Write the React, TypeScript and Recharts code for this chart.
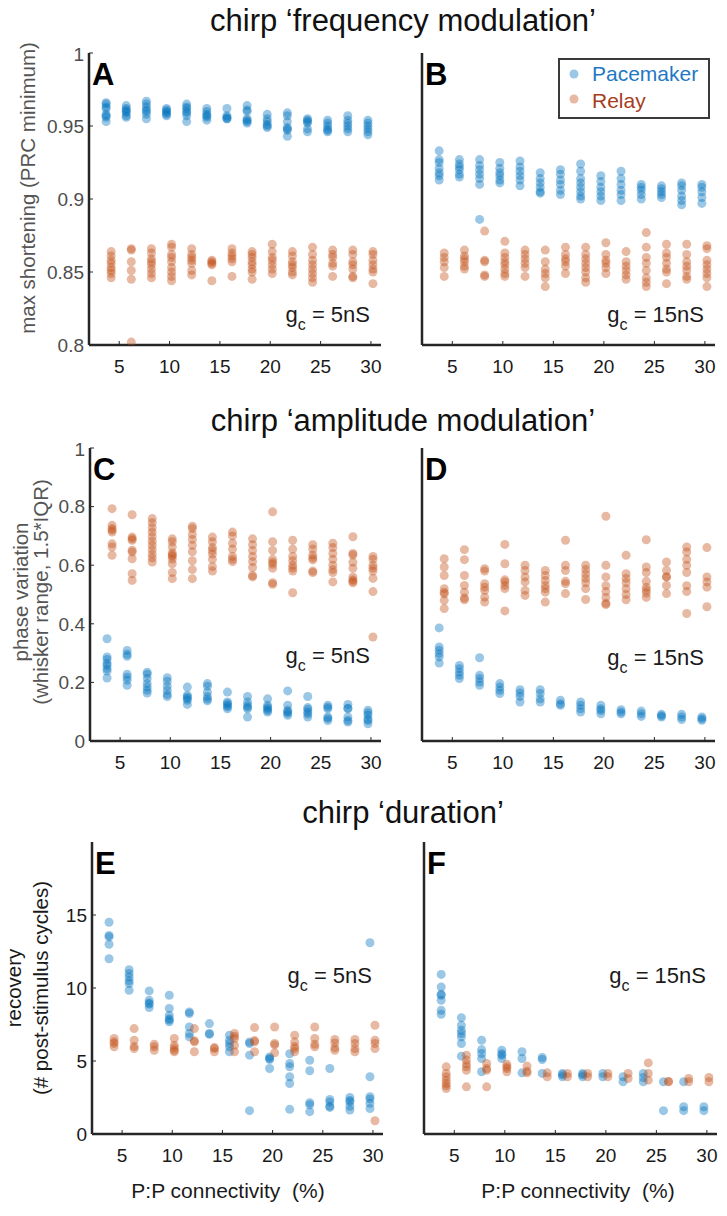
import React from 'react';
import { ScatterChart, Scatter, XAxis, YAxis } from 'recharts';

const FONT = '"Liberation Sans", Arial, Helvetica, sans-serif';
const FRAME = '#262626';
const PACE = '#0072BD';
const RELAY = '#C4501A';

const connectivity = [4, 6, 8, 10, 12, 14, 16, 18, 20, 22, 24, 26, 28, 30];
const xTicks = [5, 10, 15, 20, 25, 30];
const xDomain: [number, number] = [2, 31];
const paceOffset = -0.3;
const relayOffset = 0.2;

const ticksAB = [0.8, 0.85, 0.9, 0.95, 1];
const ticksCD = [0, 0.2, 0.4, 0.6, 0.8, 1];
const ticksEF = [0, 5, 10, 15];

const pacemakerA = [
  [0.966, 0.965, 0.963, 0.962, 0.958, 0.957, 0.956, 0.953],
  [0.964, 0.962, 0.961, 0.96, 0.959, 0.957, 0.956],
  [0.967, 0.965, 0.963, 0.961, 0.96, 0.958, 0.955],
  [0.962, 0.961, 0.96, 0.959, 0.958, 0.957],
  [0.965, 0.963, 0.962, 0.96, 0.959, 0.957, 0.953],
  [0.962, 0.96, 0.958, 0.957, 0.956, 0.954],
  [0.962, 0.957, 0.956, 0.955, 0.955],
  [0.964, 0.961, 0.96, 0.955, 0.954, 0.953, 0.952],
  [0.958, 0.955, 0.953, 0.951, 0.95, 0.949],
  [0.959, 0.957, 0.953, 0.949, 0.948, 0.947, 0.943],
  [0.955, 0.954, 0.953, 0.952, 0.948, 0.946],
  [0.954, 0.952, 0.95, 0.948, 0.947, 0.946],
  [0.957, 0.954, 0.952, 0.95, 0.948, 0.946],
  [0.954, 0.952, 0.95, 0.948, 0.946, 0.944],
];
const relayA = [
  [0.864, 0.861, 0.858, 0.856, 0.853, 0.851, 0.849, 0.846],
  [0.866, 0.865, 0.857, 0.851, 0.845, 0.802],
  [0.866, 0.863, 0.859, 0.857, 0.855, 0.852, 0.849, 0.846],
  [0.869, 0.867, 0.862, 0.86, 0.857, 0.853, 0.85, 0.847, 0.844],
  [0.866, 0.862, 0.86, 0.858, 0.856, 0.851, 0.848],
  [0.858, 0.857, 0.856, 0.855, 0.844],
  [0.866, 0.863, 0.861, 0.859, 0.857, 0.847],
  [0.864, 0.862, 0.86, 0.857, 0.855, 0.852, 0.85, 0.845],
  [0.869, 0.864, 0.86, 0.858, 0.855, 0.852, 0.849],
  [0.864, 0.861, 0.857, 0.855, 0.853, 0.85, 0.848],
  [0.867, 0.862, 0.858, 0.855, 0.852, 0.849, 0.846, 0.843],
  [0.865, 0.862, 0.86, 0.856, 0.854, 0.847],
  [0.865, 0.862, 0.857, 0.855, 0.852, 0.847, 0.846],
  [0.864, 0.862, 0.858, 0.855, 0.852, 0.85, 0.842],
];

const pacemakerB = [
  [0.933, 0.927, 0.925, 0.921, 0.918, 0.916, 0.913],
  [0.927, 0.924, 0.922, 0.92, 0.917, 0.915],
  [0.927, 0.923, 0.92, 0.917, 0.914, 0.91, 0.886],
  [0.925, 0.921, 0.918, 0.916, 0.913, 0.911],
  [0.926, 0.922, 0.919, 0.916, 0.913, 0.909],
  [0.918, 0.914, 0.911, 0.908, 0.905, 0.904],
  [0.92, 0.917, 0.913, 0.91, 0.906, 0.903],
  [0.924, 0.919, 0.914, 0.911, 0.908, 0.905, 0.902, 0.9],
  [0.916, 0.912, 0.908, 0.905, 0.902, 0.899],
  [0.919, 0.914, 0.91, 0.906, 0.903, 0.899],
  [0.91, 0.908, 0.906, 0.903, 0.9],
  [0.909, 0.907, 0.905, 0.903, 0.901],
  [0.911, 0.909, 0.906, 0.902, 0.899, 0.896],
  [0.91, 0.908, 0.905, 0.901, 0.897],
];
const relayB = [
  [0.863, 0.86, 0.857, 0.853, 0.847],
  [0.865, 0.861, 0.859, 0.857, 0.854, 0.852],
  [0.878, 0.858, 0.857, 0.848, 0.847],
  [0.871, 0.863, 0.86, 0.857, 0.855, 0.852, 0.849, 0.847],
  [0.865, 0.862, 0.859, 0.856, 0.853, 0.847],
  [0.865, 0.857, 0.852, 0.849, 0.846, 0.84],
  [0.867, 0.862, 0.859, 0.857, 0.854, 0.849],
  [0.867, 0.862, 0.859, 0.856, 0.853, 0.85, 0.846, 0.843],
  [0.87, 0.862, 0.858, 0.856, 0.853, 0.849],
  [0.864, 0.857, 0.854, 0.851, 0.848, 0.845],
  [0.877, 0.867, 0.86, 0.856, 0.851, 0.846, 0.843, 0.84],
  [0.869, 0.863, 0.86, 0.856, 0.852, 0.85, 0.842],
  [0.869, 0.862, 0.857, 0.854, 0.851, 0.847, 0.845],
  [0.868, 0.866, 0.858, 0.855, 0.852, 0.849, 0.846, 0.84],
];

const pacemakerC = [
  [0.349, 0.287, 0.278, 0.265, 0.258, 0.247, 0.239, 0.215],
  [0.309, 0.296, 0.289, 0.228, 0.218, 0.207, 0.19],
  [0.235, 0.228, 0.213, 0.196, 0.184, 0.173, 0.164],
  [0.216, 0.204, 0.187, 0.173, 0.159, 0.152],
  [0.184, 0.156, 0.15, 0.145, 0.139, 0.125],
  [0.196, 0.187, 0.167, 0.152, 0.143, 0.137],
  [0.167, 0.133, 0.128, 0.122, 0.117, 0.11],
  [0.152, 0.133, 0.122, 0.115, 0.11, 0.082],
  [0.144, 0.122, 0.115, 0.11, 0.104, 0.099],
  [0.171, 0.122, 0.105, 0.1, 0.095, 0.088],
  [0.152, 0.114, 0.108, 0.099, 0.092, 0.082],
  [0.122, 0.115, 0.11, 0.082, 0.077, 0.07],
  [0.125, 0.112, 0.11, 0.082, 0.07, 0.065],
  [0.105, 0.096, 0.088, 0.075, 0.07, 0.059],
];
const relayC = [
  [0.793, 0.736, 0.725, 0.72, 0.713, 0.673, 0.662, 0.634],
  [0.772, 0.696, 0.69, 0.685, 0.651, 0.645, 0.622, 0.571, 0.548],
  [0.759, 0.745, 0.728, 0.713, 0.697, 0.682, 0.668, 0.653, 0.638, 0.625, 0.611],
  [0.69, 0.68, 0.662, 0.642, 0.635, 0.631, 0.621, 0.605, 0.575, 0.554],
  [0.733, 0.725, 0.705, 0.688, 0.668, 0.646, 0.615, 0.585, 0.554],
  [0.696, 0.68, 0.66, 0.65, 0.638, 0.62, 0.595, 0.58],
  [0.713, 0.7, 0.675, 0.655, 0.63, 0.62, 0.612],
  [0.69, 0.67, 0.65, 0.63, 0.612, 0.592, 0.565, 0.56],
  [0.782, 0.68, 0.65, 0.62, 0.61, 0.603, 0.59, 0.54, 0.535],
  [0.685, 0.655, 0.63, 0.615, 0.6, 0.59, 0.58, 0.506],
  [0.67, 0.655, 0.635, 0.625, 0.618, 0.58, 0.575],
  [0.675, 0.66, 0.64, 0.62, 0.6, 0.585, 0.575, 0.543],
  [0.697, 0.64, 0.635, 0.61, 0.59, 0.56, 0.55, 0.545, 0.54],
  [0.63, 0.62, 0.6, 0.59, 0.58, 0.555, 0.51, 0.355],
];

const pacemakerD = [
  [0.386, 0.321, 0.31, 0.298, 0.287, 0.266],
  [0.258, 0.247, 0.235, 0.224, 0.213],
  [0.284, 0.224, 0.213, 0.201, 0.19],
  [0.196, 0.184, 0.173, 0.162],
  [0.175, 0.164, 0.152, 0.133],
  [0.175, 0.162, 0.144, 0.133],
  [0.139, 0.127, 0.122],
  [0.133, 0.122, 0.11, 0.099],
  [0.122, 0.11, 0.104, 0.093],
  [0.107, 0.099, 0.093],
  [0.102, 0.093, 0.084],
  [0.091, 0.086, 0.082],
  [0.091, 0.082, 0.073],
  [0.082, 0.076, 0.071],
];
const relayD = [
  [0.622, 0.594, 0.565, 0.52, 0.508, 0.502, 0.48, 0.452],
  [0.653, 0.619, 0.565, 0.531, 0.508, 0.488, 0.482],
  [0.588, 0.58, 0.537, 0.525, 0.514, 0.491, 0.474],
  [0.671, 0.605, 0.55, 0.543, 0.531, 0.52, 0.444],
  [0.6, 0.582, 0.56, 0.543, 0.514, 0.497],
  [0.582, 0.565, 0.548, 0.531, 0.52, 0.508, 0.474],
  [0.685, 0.6, 0.582, 0.545, 0.537, 0.503],
  [0.6, 0.585, 0.57, 0.555, 0.54, 0.52, 0.483],
  [0.767, 0.6, 0.56, 0.53, 0.51, 0.49, 0.47, 0.466],
  [0.634, 0.571, 0.555, 0.54, 0.52, 0.5, 0.482],
  [0.687, 0.594, 0.575, 0.545, 0.525, 0.515, 0.505, 0.49],
  [0.611, 0.582, 0.56, 0.56, 0.531, 0.503],
  [0.662, 0.645, 0.62, 0.6, 0.575, 0.53, 0.51, 0.435],
  [0.66, 0.56, 0.543, 0.525, 0.458],
];

const pacemakerE = [
  [14.5, 13.6, 13.5, 13.0, 12.0],
  [11.25, 11.0, 10.75, 10.5, 10.3, 9.84],
  [9.8, 9.16, 8.97, 8.9, 8.66],
  [9.5, 8.6, 8.13, 7.9, 7.8, 7.68],
  [8.36, 8.25, 7.33, 6.88, 6.65],
  [7.56, 6.88, 6.83],
  [6.77, 6.42, 6.2, 5.97, 5.63],
  [6.3, 6.2, 5.4, 1.6],
  [5.28, 5.17, 5.1, 4.49],
  [5.5, 4.83, 4.6, 3.92, 3.46, 1.69],
  [5.05, 4.33, 2.14, 2.0, 1.53],
  [4.49, 2.37, 2.2, 1.9, 1.82],
  [2.5, 2.3, 2.2, 1.9, 1.64],
  [13.1, 3.92, 2.55, 2.4, 2.1, 1.75],
];
const relayE = [
  [6.54, 6.31, 6.2, 5.97],
  [7.22, 6.42, 6.0, 5.85],
  [6.15, 5.97, 5.74],
  [6.54, 6.08, 5.9, 5.74, 5.63],
  [7.22, 6.38, 6.31, 5.63],
  [5.92, 5.85, 5.63],
  [6.88, 6.7, 6.54, 6.08, 5.63],
  [7.29, 6.4, 6.31, 5.63],
  [7.33, 6.2, 6.1, 5.56],
  [6.77, 6.31, 6.0, 5.85, 5.63],
  [7.33, 6.54, 6.15, 5.97],
  [6.47, 6.24, 5.9, 5.74],
  [6.47, 6.2, 5.85, 5.63],
  [7.45, 6.42, 6.2, 5.85, 0.91],
];

const pacemakerF = [
  [10.93, 10.07, 9.57, 9.5, 9.16, 8.47, 8.2],
  [7.97, 7.45, 7.1, 6.88, 6.65, 6.2, 5.33],
  [6.42, 5.78, 5.51, 5.17, 4.26],
  [5.74, 5.5, 5.4, 5.17],
  [5.63, 5.17, 4.19],
  [5.24, 5.1, 4.15],
  [4.15, 4.05, 3.92],
  [4.15, 4.05, 3.92],
  [4.15, 3.92],
  [3.92, 3.58],
  [4.15, 3.87, 3.58],
  [3.58, 1.6],
  [3.58, 1.87, 1.6],
  [1.87, 1.6],
];
const relayF = [
  [4.6, 4.15, 3.92, 3.69, 3.46, 3.3, 3.12],
  [5.4, 5.06, 4.8, 4.6, 4.37, 3.23],
  [4.83, 4.49, 4.37, 3.23],
  [4.78, 4.6, 4.49, 4.26],
  [4.65, 4.3, 4.19],
  [4.19, 3.92],
  [4.15, 3.92],
  [4.15, 3.92],
  [4.15, 3.92],
  [4.15, 3.8],
  [4.87, 4.15, 3.69],
  [3.6, 3.58],
  [3.8, 3.58],
  [3.87, 3.58],
];

const titles = ['chirp \u2018frequency modulation\u2019', 'chirp \u2018amplitude modulation\u2019', 'chirp \u2018duration\u2019'];
const xLabel = 'P:P connectivity  (%)';

type Pt = { x: number; y: number };
const toPoints = (cols: number[][], offset: number): Pt[] =>
  cols.flatMap((vals, i) => vals.map((v) => ({ x: connectivity[i] + offset, y: v })));

const makeDot = (color: string) => (props: any) =>
  props.cx == null ? <g /> : <circle cx={props.cx} cy={props.cy} r={4.5} fill={color} fillOpacity={0.4} stroke="none" />;
const paceDot = makeDot(PACE);
const relayDot = makeDot(RELAY);

type Frame = { x: number; y: number; w: number; h: number };

type PanelProps = {
  frame: Frame;
  leftCol: boolean;
  bottomRow: boolean;
  pace: number[][];
  relay: number[][];
  yDomain: [number, number];
  yTicks: number[];
  letter: string;
  gc: string;
  gcBaseline: number;
  yLabel?: string[];
  yLabelX?: number[];
  yLabelCenter?: number;
  yLabelColor?: string;
  yTickColor?: string;
  xLabelCenter?: number;
  legend?: boolean;
};

function Panel(p: PanelProps) {
  const { frame } = p;
  const ML = p.leftCol ? frame.x : 24;
  const MT = 10;
  const MR = 12;
  const MB = p.bottomRow ? 80 : 40;
  const chartLeft = frame.x - ML;
  const chartTop = frame.y - MT;
  const width = ML + frame.w + MR;
  const height = MT + frame.h + MB;
  const paceData = toPoints(p.pace, paceOffset);
  const relayData = toPoints(p.relay, relayOffset);
  const axisLine = { stroke: FRAME, strokeWidth: 2.5 };
  const tickLine = { stroke: FRAME, strokeWidth: 1 };
  const fR = ML + frame.w;
  const fT = MT;
  return (
    <div style={{ position: 'absolute', left: chartLeft, top: chartTop }}>
      <ScatterChart width={width} height={height} margin={{ top: MT, right: MR, left: 0, bottom: 0 }}>
        <XAxis
          type="number"
          dataKey="x"
          domain={xDomain}
          ticks={xTicks}
          allowDataOverflow
          height={MB}
          axisLine={axisLine}
          tickLine={tickLine}
          tickSize={-4}
          tickMargin={19}
          tick={{ fontSize: 19, fill: '#1a1a1a', fontFamily: FONT }}
        />
        <XAxis
          xAxisId="top"
          orientation="top"
          type="number"
          domain={xDomain}
          ticks={xTicks}
          allowDataOverflow
          height={0}
          axisLine={axisLine}
          tickLine={tickLine}
          tickSize={-4}
          tick={false}
        />
        <YAxis
          type="number"
          dataKey="y"
          domain={p.yDomain}
          ticks={p.yTicks}
          allowDataOverflow
          width={ML}
          axisLine={axisLine}
          tickLine={tickLine}
          tickSize={-4}
          tickMargin={9}
          tick={p.leftCol ? { fontSize: 19, fill: p.yTickColor || '#4d4d4d', fontFamily: FONT } : false}
        />
        <YAxis
          yAxisId="right"
          orientation="right"
          type="number"
          domain={p.yDomain}
          ticks={p.yTicks}
          allowDataOverflow
          width={0}
          axisLine={axisLine}
          tickLine={tickLine}
          tickSize={-4}
          tick={false}
        />
        <Scatter name="Pacemaker" data={paceData} shape={paceDot} isAnimationActive={false} />
        <Scatter name="Relay" data={relayData} shape={relayDot} isAnimationActive={false} />
        <text x={ML + 3} y={fT + 32} fontSize={31} fontWeight="bold" fontFamily={FONT} fill="#000">
          {p.letter}
        </text>
        <text x={fR - 11} y={fT + p.gcBaseline} textAnchor="end" fontSize={22} fontFamily={FONT} fill="#1a1a1a">
          <tspan>g</tspan>
          <tspan fontSize={16} dy={8}>c</tspan>
          <tspan dy={-8}>{' = ' + p.gc}</tspan>
        </text>
        {p.yLabel &&
          p.yLabel.map((line, i) => (
            <text
              key={i}
              transform={`translate(${p.yLabelX![i]},${(p.yLabelCenter || 0) - chartTop}) rotate(-90)`}
              textAnchor="middle"
              fontSize={20.5}
              fontFamily={FONT}
              fill={p.yLabelColor || '#555555'}
            >
              {line}
            </text>
          ))}
        {p.bottomRow && (
          <text
            x={(p.xLabelCenter || 0) - chartLeft}
            y={1198 - chartTop}
            textAnchor="middle"
            fontSize={21}
            fontFamily={FONT}
            fill="#1a1a1a"
            style={{ whiteSpace: 'pre' }}
          >
            {xLabel}
          </text>
        )}
        {p.legend && (
          <g>
            <rect x={559 - chartLeft} y={59 - chartTop} width={150} height={59} fill="#fff" stroke="#3a3a3a" strokeWidth={2} />
            <circle cx={574 - chartLeft} cy={74 - chartTop} r={4.5} fill={PACE} fillOpacity={0.4} />
            <text x={592 - chartLeft} y={81 - chartTop} fontSize={21} fontFamily={FONT} fill="#1f78c4">
              Pacemaker
            </text>
            <circle cx={574 - chartLeft} cy={99 - chartTop} r={4.5} fill={RELAY} fillOpacity={0.4} />
            <text x={592 - chartLeft} y={108 - chartTop} fontSize={21} fontFamily={FONT} fill="#a83c20">
              Relay
            </text>
          </g>
        )}
      </ScatterChart>
    </div>
  );
}

function Title({ text, baseline }: { text: string; baseline: number }) {
  const size = 31;
  return (
    <div
      style={{
        position: 'absolute',
        left: 103,
        width: 600,
        top: baseline - Math.round(size * 0.8465),
        textAlign: 'center',
        fontSize: size,
        lineHeight: `${size}px`,
        fontFamily: FONT,
        color: '#111',
        whiteSpace: 'nowrap',
      }}
    >
      {text}
    </div>
  );
}

export default function App() {
  return (
    <div style={{ position: 'absolute', left: 0, top: 0, width: 727, height: 1216, background: '#fff', overflow: 'hidden' }}>
      <Title text={titles[0]} baseline={31} />
      <Title text={titles[1]} baseline={431} />
      <Title text={titles[2]} baseline={823} />
      <Panel
        frame={{ x: 89, y: 53, w: 292, h: 292 }}
        leftCol
        bottomRow={false}
        pace={pacemakerA}
        relay={relayA}
        yDomain={[0.8, 1]}
        yTicks={ticksAB}
        letter="A"
        gc="5nS"
        gcBaseline={269}
        yLabel={['max shortening (PRC minimum)']}
        yLabelX={[35]}
        yLabelCenter={188}
      />
      <Panel
        frame={{ x: 422, y: 53, w: 293, h: 292 }}
        leftCol={false}
        bottomRow={false}
        pace={pacemakerB}
        relay={relayB}
        yDomain={[0.8, 1]}
        yTicks={ticksAB}
        letter="B"
        gc="15nS"
        gcBaseline={269}
        legend
      />
      <Panel
        frame={{ x: 90, y: 448, w: 291, h: 293 }}
        leftCol
        bottomRow={false}
        pace={pacemakerC}
        relay={relayC}
        yDomain={[0, 1]}
        yTicks={ticksCD}
        letter="C"
        gc="5nS"
        gcBaseline={215}
        yLabel={['phase variation', '(whisker range, 1.5*IQR)']}
        yLabelX={[28, 48]}
        yLabelCenter={592}
      />
      <Panel
        frame={{ x: 422, y: 448, w: 293, h: 293 }}
        leftCol={false}
        bottomRow={false}
        pace={pacemakerD}
        relay={relayD}
        yDomain={[0, 1]}
        yTicks={ticksCD}
        letter="D"
        gc="15nS"
        gcBaseline={217}
      />
      <Panel
        frame={{ x: 92, y: 842, w: 291, h: 292 }}
        leftCol
        bottomRow
        pace={pacemakerE}
        relay={relayE}
        yDomain={[0, 20]}
        yTicks={ticksEF}
        letter="E"
        gc="5nS"
        gcBaseline={141}
        yLabel={['recovery', '(# post-stimulus cycles)']}
        yLabelX={[21, 48]}
        yLabelCenter={988}
        yLabelColor="#1a1a1a"
        yTickColor="#1a1a1a"
        xLabelCenter={228}
      />
      <Panel
        frame={{ x: 424, y: 842, w: 293, h: 292 }}
        leftCol={false}
        bottomRow
        pace={pacemakerF}
        relay={relayF}
        yDomain={[0, 20]}
        yTicks={ticksEF}
        letter="F"
        gc="15nS"
        gcBaseline={141}
        xLabelCenter={578}
      />
    </div>
  );
}
